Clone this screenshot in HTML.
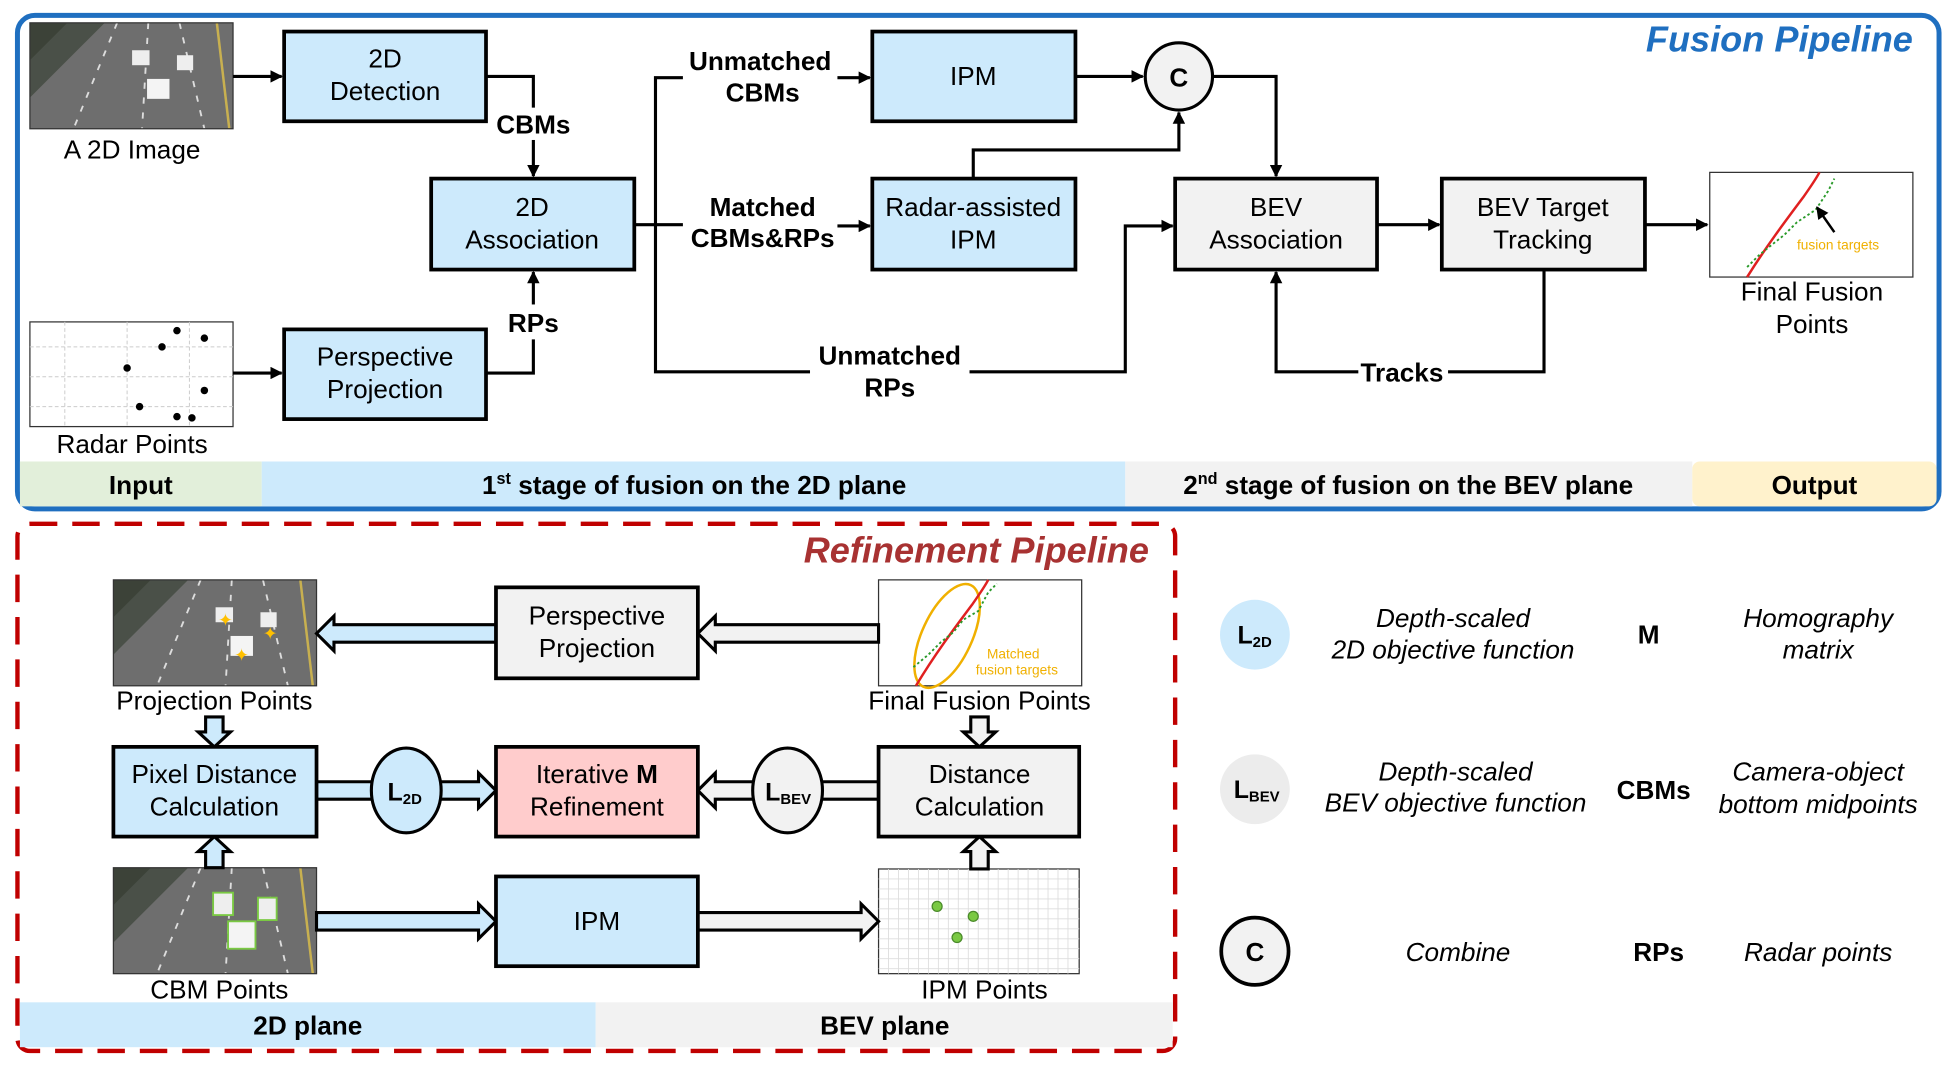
<!DOCTYPE html>
<html><head><meta charset="utf-8"><style>
html,body{margin:0;padding:0;background:#fff;}
svg{display:block;}
text{font-family:"Liberation Sans",sans-serif;fill:#000;}
.t{font-size:21px;text-anchor:middle;}
.b{font-size:21px;font-weight:bold;text-anchor:middle;}
.i{font-size:21px;font-style:italic;text-anchor:middle;}
.bx{stroke:#000;stroke-width:3;}
.ln{stroke:#000;stroke-width:2.5;fill:none;}
.ha{stroke:#000;stroke-width:2.5;stroke-linejoin:miter;}
</style></head><body>
<svg width="1954" height="1075" viewBox="0 0 1568 862" xmlns="http://www.w3.org/2000/svg">
<defs>
<marker id="ar" markerWidth="10" markerHeight="10" refX="9" refY="5" orient="auto" markerUnits="userSpaceOnUse"><path d="M0,0 L10,5 L0,10 Z" fill="#000"/></marker>
<g id="road">
<rect x="0" y="0" width="163" height="85" fill="#6e6e6e"/>
<polygon points="0,0 60,0 0,60" fill="#4a5048"/>
<polygon points="0,0 30,0 0,30" fill="#3c4238"/>
<line x1="70" y1="0" x2="35" y2="85" stroke="#ddd" stroke-width="1.5" stroke-dasharray="5 7"/>
<line x1="95" y1="0" x2="90" y2="85" stroke="#ddd" stroke-width="1.5" stroke-dasharray="5 7"/>
<line x1="120" y1="0" x2="140" y2="85" stroke="#ddd" stroke-width="1.5" stroke-dasharray="5 7"/>
<line x1="150" y1="0" x2="160" y2="85" stroke="#c8b050" stroke-width="2"/>
</g>
</defs>

<!-- Fusion pipeline frame -->
<rect x="14" y="12" width="1542" height="396" rx="14" fill="#fff" stroke="#1f6fc0" stroke-width="4"/>
<rect x="16" y="370" width="194" height="36" fill="#e2efda"/>
<rect x="210" y="370" width="693" height="36" fill="#cdeafc"/>
<rect x="903" y="370" width="455" height="36" fill="#f2f2f2"/>
<rect x="1358" y="370" width="196" height="36" rx="6" fill="#fff2cc"/>
<text class="b" x="113" y="396">Input</text>
<text class="b" x="557" y="396">1<tspan font-size="13" dy="-8">st</tspan><tspan dy="8"> stage of fusion on the 2D plane</tspan></text>
<text class="b" x="1130" y="396">2<tspan font-size="13" dy="-8">nd</tspan><tspan dy="8"> stage of fusion on the BEV plane</tspan></text>
<text class="b" x="1456" y="396">Output</text>
<text x="1535" y="41" font-size="29" font-weight="bold" font-style="italic" fill="#1f6fc0" style="fill:#1f6fc0" text-anchor="end">Fusion Pipeline</text>

<!-- images -->
<g transform="translate(24,18)"><use href="#road"/>
<rect x="82" y="22" width="14" height="12" fill="#eee"/><rect x="118" y="26" width="13" height="12" fill="#eee"/><rect x="94" y="45" width="18" height="16" fill="#f4f4f4"/>
<rect x="0" y="0" width="163" height="85" fill="none" stroke="#333" stroke-width="1"/></g>
<text class="t" x="106" y="127">A 2D Image</text>

<g transform="translate(24,258)">
<rect width="163" height="84" fill="#fff" stroke="#333" stroke-width="1"/>
<g stroke="#ccc" stroke-width="0.8" stroke-dasharray="3 2">
<line x1="28" y1="0" x2="28" y2="84"/><line x1="78" y1="0" x2="78" y2="84"/><line x1="128" y1="0" x2="128" y2="84"/>
<line x1="0" y1="20" x2="163" y2="20"/><line x1="0" y1="44" x2="163" y2="44"/><line x1="0" y1="68" x2="163" y2="68"/></g>
<g fill="#000"><circle cx="118" cy="7" r="3"/><circle cx="140" cy="13" r="3"/><circle cx="106" cy="20" r="3"/><circle cx="78" cy="37" r="3"/><circle cx="140" cy="55" r="3"/><circle cx="88" cy="68" r="3"/><circle cx="118" cy="76" r="3"/><circle cx="130" cy="77" r="3"/></g>
</g>
<text class="t" x="106" y="363">Radar Points</text>

<!-- boxes -->
<rect class="bx" x="228" y="25" width="162" height="72" fill="#cdeafc"/>
<text class="t" x="309" y="54">2D</text><text class="t" x="309" y="80">Detection</text>
<rect class="bx" x="346" y="143" width="163" height="73" fill="#cdeafc"/>
<text class="t" x="427" y="173">2D</text><text class="t" x="427" y="199">Association</text>
<rect class="bx" x="228" y="264" width="162" height="72" fill="#cdeafc"/>
<text class="t" x="309" y="293">Perspective</text><text class="t" x="309" y="319">Projection</text>
<rect class="bx" x="700" y="25" width="163" height="72" fill="#cdeafc"/>
<text class="t" x="781" y="68">IPM</text>
<rect class="bx" x="700" y="143" width="163" height="73" fill="#cdeafc"/>
<text class="t" x="781" y="173">Radar-assisted</text><text class="t" x="781" y="199">IPM</text>
<rect class="bx" x="943" y="143" width="162" height="73" fill="#f2f2f2"/>
<text class="t" x="1024" y="173">BEV</text><text class="t" x="1024" y="199">Association</text>
<rect class="bx" x="1157" y="143" width="163" height="73" fill="#f2f2f2"/>
<text class="t" x="1238" y="173">BEV Target</text><text class="t" x="1238" y="199">Tracking</text>
<circle cx="946" cy="61" r="27" fill="#f2f2f2" stroke="#000" stroke-width="2.5"/>
<text class="b" x="946" y="69">C</text>

<g transform="translate(1372,138)">
<rect width="163" height="84" fill="#fff" stroke="#333" stroke-width="1"/>
<path d="M30,84 C45,60 60,40 75,20 C82,10 86,4 88,0" stroke="#e02020" stroke-width="2" fill="none"/>
<path d="M30,76 L40,66 L50,58 L60,50 L70,40 L85,30 L95,15 L100,5" stroke="#2a9a2a" stroke-width="1.5" stroke-dasharray="2 2" fill="none"/>
<line x1="100" y1="48" x2="86" y2="28" stroke="#000" stroke-width="2" marker-end="url(#ar)"/>
<text x="70" y="62" font-size="11" style="fill:#f0b000" fill="#f0b000">fusion targets</text>
</g>
<text class="t" x="1454" y="241">Final Fusion</text><text class="t" x="1454" y="267">Points</text>

<!-- connectors -->
<line class="ln" x1="187" y1="61" x2="226" y2="61" marker-end="url(#ar)"/>
<line class="ln" x1="187" y1="299" x2="226" y2="299" marker-end="url(#ar)"/>
<polyline class="ln" points="390,61 428,61 428,86"/>
<line class="ln" x1="428" y1="112" x2="428" y2="141" marker-end="url(#ar)"/>
<text class="b" x="428" y="107">CBMs</text>
<polyline class="ln" points="390,299 428,299 428,272"/>
<line class="ln" x1="428" y1="244" x2="428" y2="218" marker-end="url(#ar)"/>
<text class="b" x="428" y="266">RPs</text>
<line class="ln" x1="509" y1="180" x2="548" y2="180"/>
<polyline class="ln" points="548,62 526,62 526,298 650,298"/>
<text class="b" x="610" y="56">Unmatched</text><text class="b" x="612" y="81">CBMs</text>
<line class="ln" x1="672" y1="62" x2="698" y2="62" marker-end="url(#ar)"/>
<text class="b" x="612" y="173">Matched</text><text class="b" x="612" y="198">CBMs&amp;RPs</text>
<line class="ln" x1="672" y1="181" x2="698" y2="181" marker-end="url(#ar)"/>
<text class="b" x="714" y="292">Unmatched</text><text class="b" x="714" y="318">RPs</text>
<polyline class="ln" points="778,298 903,298 903,181 941,181" marker-end="url(#ar)"/>
<line class="ln" x1="863" y1="61" x2="917" y2="61" marker-end="url(#ar)"/>
<polyline class="ln" points="781,143 781,120 946,120 946,90" marker-end="url(#ar)"/>
<polyline class="ln" points="973,61 1024,61 1024,141" marker-end="url(#ar)"/>
<line class="ln" x1="1105" y1="180" x2="1155" y2="180" marker-end="url(#ar)"/>
<line class="ln" x1="1320" y1="180" x2="1370" y2="180" marker-end="url(#ar)"/>
<polyline class="ln" points="1239,216 1239,298 1162,298"/>
<polyline class="ln" points="1090,298 1024,298 1024,218" marker-end="url(#ar)"/>
<text class="b" x="1125" y="306">Tracks</text>

<!-- Refinement pipeline -->
<rect x="14" y="420" width="929" height="423" rx="10" fill="none" stroke="#c00000" stroke-width="3.5" stroke-dasharray="22 12"/>
<rect x="16" y="804" width="462" height="36" fill="#cdeafc"/>
<rect x="478" y="804" width="463" height="36" fill="#f2f2f2"/>
<text class="b" x="247" y="830">2D plane</text>
<text class="b" x="710" y="830">BEV plane</text>
<text x="922" y="451" font-size="29" font-weight="bold" font-style="italic" style="fill:#a83232" text-anchor="end">Refinement Pipeline</text>

<g transform="translate(91,465)"><use href="#road"/>
<rect x="82" y="22" width="14" height="12" fill="#eee"/><rect x="118" y="26" width="13" height="12" fill="#eee"/><rect x="94" y="45" width="18" height="16" fill="#f4f4f4"/>
<text x="84" y="37" font-size="14" style="fill:#ffc000">✦</text><text x="120" y="48" font-size="14" style="fill:#ffc000">✦</text><text x="97" y="65" font-size="14" style="fill:#ffc000">✦</text>
<rect width="163" height="85" fill="none" stroke="#333"/></g>
<text class="t" x="172" y="569">Projection Points</text>

<g transform="translate(705,465)">
<rect width="163" height="85" fill="#fff" stroke="#333"/>
<ellipse cx="55" cy="45" rx="20" ry="45" transform="rotate(25 55 45)" fill="none" stroke="#f0b000" stroke-width="2"/>
<path d="M30,85 C45,60 60,40 75,20 C82,10 86,4 88,0" stroke="#e02020" stroke-width="2" fill="none"/>
<path d="M28,70 L40,60 L50,50 L60,42 L68,32 L80,25 L88,10 L95,3" stroke="#2a9a2a" stroke-width="1.5" stroke-dasharray="2 2" fill="none"/>
<text x="87" y="63" font-size="11" style="fill:#f0b000">Matched</text>
<text x="78" y="76" font-size="11" style="fill:#f0b000">fusion targets</text>
</g>
<text class="t" x="786" y="569">Final Fusion Points</text>

<g transform="translate(91,696)"><use href="#road"/>
<rect x="80" y="20" width="16" height="18" fill="#eee" stroke="#7ac943" stroke-width="1.5"/><rect x="116" y="24" width="15" height="18" fill="#eee" stroke="#7ac943" stroke-width="1.5"/><rect x="92" y="43" width="22" height="22" fill="#f4f4f4" stroke="#7ac943" stroke-width="1.5"/>
<rect width="163" height="85" fill="none" stroke="#333"/></g>
<text class="t" x="176" y="801">CBM Points</text>

<g transform="translate(705,697)">
<rect width="161" height="84" fill="#fff" stroke="#333"/>
<g stroke="#ddd" stroke-width="0.7">
<path d="M0,8H161M0,16H161M0,24H161M0,32H161M0,40H161M0,48H161M0,56H161M0,64H161M0,72H161M0,80H161"/>
<path d="M8,0V84M16,0V84M24,0V84M32,0V84M40,0V84M48,0V84M56,0V84M64,0V84M72,0V84M80,0V84M88,0V84M96,0V84M104,0V84M112,0V84M120,0V84M128,0V84M136,0V84M144,0V84M152,0V84"/></g>
<circle cx="47" cy="30" r="4" fill="#7ac943" stroke="#4a8a2a"/><circle cx="76" cy="38" r="4" fill="#7ac943" stroke="#4a8a2a"/><circle cx="63" cy="55" r="4" fill="#7ac943" stroke="#4a8a2a"/>
</g>
<text class="t" x="790" y="801">IPM Points</text>

<!-- hollow arrows -->
<polygon class="ha" fill="#f2f2f2" points="705,501 574,501 574,494 560,508 574,522 574,515 705,515"/>
<polygon class="ha" fill="#cdeafc" points="398,501 268,501 268,494 254,508 268,522 268,515 398,515"/>
<polygon class="ha" fill="#cdeafc" points="254,627 384,627 384,620 398,634 384,648 384,641 254,641"/>
<polygon class="ha" fill="#f2f2f2" points="705,627 574,627 574,620 560,634 574,648 574,641 705,641"/>
<polygon class="ha" fill="#cdeafc" points="254,732 384,732 384,725 398,739 384,753 384,746 254,746"/>
<polygon class="ha" fill="#f2f2f2" points="560,732 691,732 691,725 705,739 691,753 691,746 560,746"/>
<polygon class="ha" fill="#cdeafc" points="165,575 179,575 179,587 185,587 172,599 159,587 165,587"/>
<polygon class="ha" fill="#f2f2f2" points="779,575 793,575 793,587 799,587 786,599 773,587 779,587"/>
<polygon class="ha" fill="#cdeafc" points="165,696 165,683 159,683 172,671 185,683 179,683 179,696"/>
<polygon class="ha" fill="#f2f2f2" points="779,697 779,683 773,683 786,671 799,683 793,683 793,697"/>

<rect class="bx" x="398" y="471" width="162" height="73" fill="#f2f2f2"/>
<text class="t" x="479" y="501">Perspective</text><text class="t" x="479" y="527">Projection</text>
<rect class="bx" x="91" y="599" width="163" height="72" fill="#cdeafc"/>
<text class="t" x="172" y="628">Pixel Distance</text><text class="t" x="172" y="654">Calculation</text>
<rect class="bx" x="398" y="599" width="162" height="72" fill="#ffcccc"/>
<text class="t" x="479" y="628">Iterative <tspan font-weight="bold">M</tspan></text><text class="t" x="479" y="654">Refinement</text>
<rect class="bx" x="705" y="599" width="161" height="72" fill="#f2f2f2"/>
<text class="t" x="786" y="628">Distance</text><text class="t" x="786" y="654">Calculation</text>
<rect class="bx" x="398" y="703" width="162" height="72" fill="#cdeafc"/>
<text class="t" x="479" y="746">IPM</text>
<ellipse cx="326" cy="634" rx="28" ry="34" fill="#cdeafc" stroke="#000" stroke-width="2.5"/>
<text x="311" y="642" font-size="20" font-weight="bold">L<tspan font-size="12" dy="3">2D</tspan></text>
<ellipse cx="632" cy="634" rx="28" ry="34" fill="#f2f2f2" stroke="#000" stroke-width="2.5"/>
<text x="614" y="642" font-size="20" font-weight="bold">L<tspan font-size="12" dy="3">BEV</tspan></text>

<!-- legend -->
<circle cx="1007" cy="509" r="28" fill="#cdeafc"/>
<text x="993" y="516" font-size="20" font-weight="bold">L<tspan font-size="12" dy="3">2D</tspan></text>
<text class="i" x="1166" y="503">Depth-scaled</text><text class="i" x="1166" y="528">2D objective function</text>
<text class="b" x="1323" y="516">M</text>
<text class="i" x="1459" y="503">Homography</text><text class="i" x="1459" y="528">matrix</text>
<circle cx="1007" cy="633" r="28" fill="#ececec"/>
<text x="990" y="640" font-size="20" font-weight="bold">L<tspan font-size="12" dy="3">BEV</tspan></text>
<text class="i" x="1168" y="626">Depth-scaled</text><text class="i" x="1168" y="651">BEV objective function</text>
<text class="b" x="1327" y="641">CBMs</text>
<text class="i" x="1459" y="626">Camera-object</text><text class="i" x="1459" y="652">bottom midpoints</text>
<circle cx="1007" cy="763" r="27" fill="#f2f2f2" stroke="#000" stroke-width="3"/>
<text class="b" x="1007" y="771">C</text>
<text class="i" x="1170" y="771">Combine</text>
<text class="b" x="1331" y="771">RPs</text>
<text class="i" x="1459" y="771">Radar points</text>
</svg>
</body></html>
